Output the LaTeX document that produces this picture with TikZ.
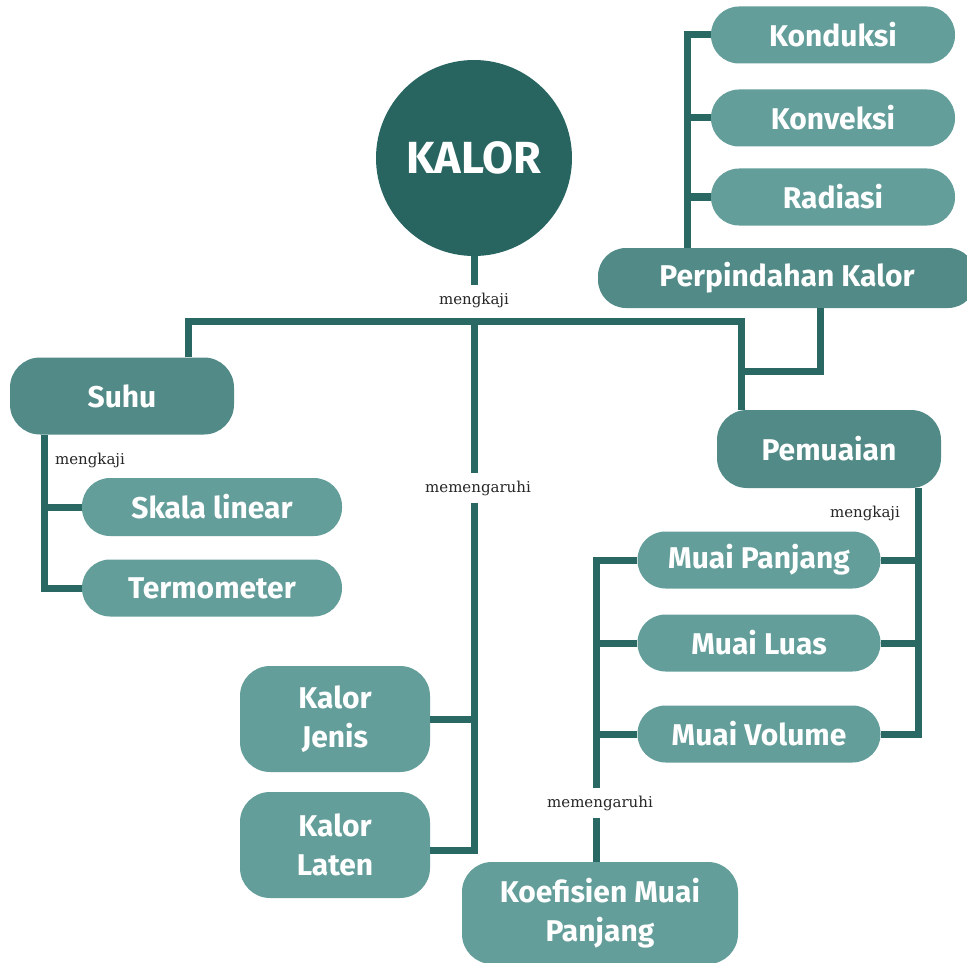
\documentclass[tikz,border=0pt]{standalone}
\usepackage{fontspec}
\setmainfont{Fira Sans}
\newfontfamily\lblfont{DejaVu Serif}
\definecolor{cLight}{HTML}{639E9A}
\definecolor{cDark}{HTML}{518A86}
\definecolor{cLine}{HTML}{2A6864}
\definecolor{cCircle}{HTML}{286561}
\begin{document}
\begin{tikzpicture}[x=1pt,y=-1pt,
  box/.style={rounded corners=28pt, minimum height=57pt, inner sep=0pt, text=white,
    font=\fontsize{30}{39}\selectfont\bfseries, align=center},
  light/.style={box, fill=cLight},
  dark/.style={box, fill=cDark},
  conn/.style={draw=cLine, line width=7pt, line join=miter},
  lbl/.style={font=\lblfont\fontsize{15}{17}\selectfont, text=black!85, inner sep=7pt}]
\useasboundingbox (0,0) rectangle (967,963);

% nodes
\node[circle, fill=cCircle, minimum size=196pt, inner sep=0pt, text=white,
      font=\fontsize{45}{50}\selectfont\bfseries] (kalor) at (474,158) {KALOR};
\node[light, minimum width=244pt] (konduksi) at (833,35) {Konduksi};
\node[light, minimum width=244pt] (konveksi) at (833,118) {Konveksi};
\node[light, minimum width=244pt] (radiasi) at (833,197) {Radiasi};
\node[dark, minimum width=378pt, minimum height=60pt] (perp) at (787,278) {Perpindahan Kalor};
\node[dark, minimum width=224pt, minimum height=77pt, rounded corners=30pt] (suhu) at (122,396) {Suhu};
\node[light, minimum width=260pt, minimum height=58pt] (skala) at (212,507) {Skala linear};
\node[light, minimum width=260pt] (termo) at (212,588) {Termometer};
\node[dark, minimum width=224pt, minimum height=78pt, rounded corners=30pt] (pemuaian) at (829,449) {Pemuaian};
\node[light, minimum width=243pt] (mp) at (759,560) {Muai Panjang};
\node[light, minimum width=243pt] (ml) at (759,643) {Muai Luas};
\node[light, minimum width=243pt] (mv) at (759,734) {Muai Volume};
\node[light, minimum width=190pt, minimum height=106pt, rounded corners=30pt] (kj) at (335,719) {Kalor\\Jenis};
\node[light, minimum width=190pt, minimum height=106pt, rounded corners=30pt] (kl) at (335,845) {Kalor\\Laten};
\node[light, minimum width=276pt, minimum height=102pt, rounded corners=30pt] (koef) at (600,913) {Koefisien Muai\\Panjang};

% labels
\node[lbl] (l1) at (474,300) {mengkaji};
\node[lbl] (l2) at (478,488) {memengaruhi};
\node[lbl] (l3) at (90,460) {mengkaji};
\node[lbl] (l4) at (865,513) {mengkaji};
\node[lbl] (l5) at (600,803) {memengaruhi};

% helper coordinates
\coordinate (jL) at (188,321);
\coordinate (jR) at (741,321);
\coordinate (jP) at (741,371);
\coordinate (cx) at (474,0);
\coordinate (tx) at (687,0);
\coordinate (sx) at (44,0);
\coordinate (px) at (918,0);
\coordinate (mx) at (596,0);

% connectors
\draw[conn] (kalor.south) -- (kalor.south |- l1.north);
\draw[conn] ([xshift=66pt]suhu.north) -- (jL) -- (jR) -- ([xshift=-88pt]pemuaian.north);
\draw[conn] ([xshift=33pt]perp.south) |- (jP);
\draw[conn] ([xshift=-100pt]perp.north) |- (konduksi.west);
\draw[conn] (konveksi.west) -- (konveksi.west -| tx);
\draw[conn] (radiasi.west) -- (radiasi.west -| tx);
\draw[conn] (cx |- jL) -- (cx |- l2.north);
\draw[conn] (cx |- l2.south) -- ([yshift=-5pt]cx |- kl.east) -- ([yshift=-5pt]kl.east);
\draw[conn] (kj.east) -- (kj.east -| cx);
\draw[conn] ([xshift=-78pt]suhu.south) |- (termo.west);
\draw[conn] (skala.west) -- (skala.west -| sx);
\draw[conn] ([xshift=89pt]pemuaian.south) |- (mv.east);
\draw[conn] (mp.east) -- (mp.east -| px);
\draw[conn] (ml.east) -- (ml.east -| px);
\draw[conn] (mx |- l5.north) |- (mp.west);
\draw[conn] (ml.west) -- (ml.west -| mx);
\draw[conn] (mv.west) -- (mv.west -| mx);
\draw[conn] (mx |- l5.south) -- (mx |- koef.north);
\end{tikzpicture}
\end{document}
